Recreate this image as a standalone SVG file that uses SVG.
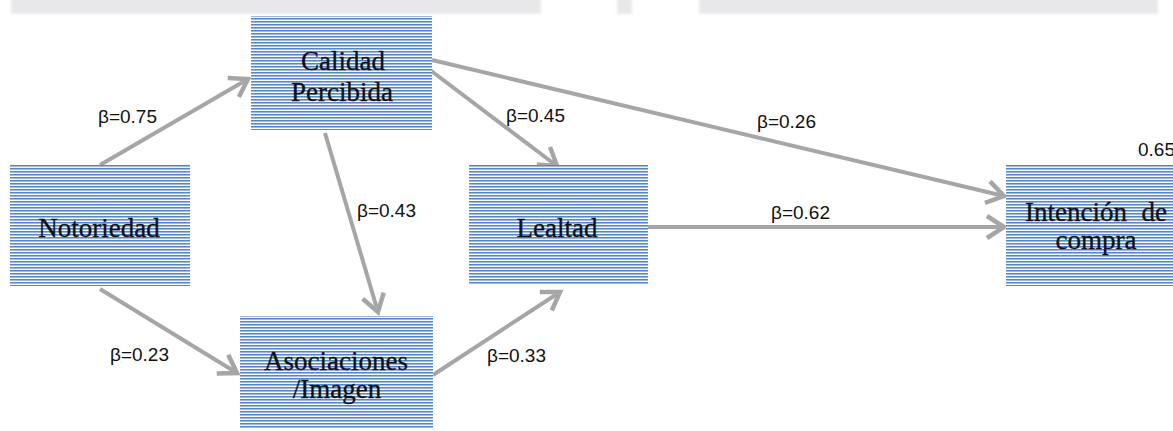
<svg xmlns="http://www.w3.org/2000/svg" width="1173" height="431" viewBox="0 0 1173 431">
  <defs>
    <pattern id="stripes" patternUnits="userSpaceOnUse" width="8" height="3">
      <rect x="0" y="0" width="8" height="3" fill="#ffffff"/>
      <rect x="0" y="0" width="8" height="1" fill="#5686d0"/>
      <rect x="0" y="1" width="8" height="1" fill="#9bbbe6"/>
    </pattern>
    <marker id="arrow" markerUnits="userSpaceOnUse" markerWidth="30" markerHeight="30" refX="22" refY="15" orient="auto">
      <path d="M5,4 L22,15 L5,26" fill="none" stroke="#a6a6a6" stroke-width="4.5" stroke-linejoin="miter"/>
    </marker>
    <filter id="soft" x="-5%" y="-50%" width="110%" height="200%">
      <feGaussianBlur stdDeviation="1.5"/>
    </filter>
  </defs>
  <style>
    .node rect { fill: url(#stripes); }
    .nl { font-family: "Liberation Serif", "Times New Roman", serif; font-size: 27px; fill: #111; stroke: #111; stroke-width: 0.35; }
    .bl { font-family: "Liberation Sans", Arial, sans-serif; font-size: 19px; fill: #111; }
    .edge { fill: none; stroke: #a6a6a6; stroke-width: 4; marker-end: url(#arrow); }
    .wm { fill: #e8e8ea; }
  </style>

  <g id="watermark" filter="url(#soft)">
    <rect class="wm" x="11" y="-4" width="530" height="18"/>
    <rect class="wm" x="617" y="-4" width="15" height="18"/>
    <rect class="wm" x="699" y="-4" width="459" height="18"/>
  </g>

  <g id="connectors">
    <line class="edge" x1="100" y1="165" x2="248" y2="79"/>
    <line class="edge" x1="100" y1="289" x2="237" y2="373"/>
    <line class="edge" x1="430" y1="70" x2="557" y2="166"/>
    <line class="edge" x1="432" y1="60" x2="1004" y2="196"/>
    <line class="edge" x1="325" y1="133" x2="378" y2="312"/>
    <line class="edge" x1="648" y1="227" x2="1004" y2="227"/>
    <line class="edge" x1="433" y1="375" x2="560" y2="292"/>
  </g>

  <g id="node-calidad" class="node">
    <rect x="251" y="16" width="181" height="114"/>
    <text class="nl" x="343" y="70" text-anchor="middle">Calidad</text>
    <text class="nl" x="342" y="101" text-anchor="middle">Percibida</text>
  </g>
  <g id="node-notoriedad" class="node">
    <rect x="10" y="165" width="180" height="121"/>
    <text class="nl" x="99" y="237" text-anchor="middle">Notoriedad</text>
  </g>
  <g id="node-asociaciones" class="node">
    <rect x="240" y="316" width="193" height="113"/>
    <text class="nl" x="336" y="370" text-anchor="middle">Asociaciones</text>
    <text class="nl" x="337" y="398" text-anchor="middle">/Imagen</text>
  </g>
  <g id="node-lealtad" class="node">
    <rect x="469" y="165" width="179" height="120"/>
    <text class="nl" x="557" y="237" text-anchor="middle">Lealtad</text>
  </g>
  <g id="node-intencion" class="node">
    <rect x="1006" y="165" width="167" height="121"/>
    <text class="nl" x="1025" y="221">Intención</text>
    <text class="nl" x="1167" y="221" text-anchor="end">de</text>
    <text class="nl" x="1096" y="249" text-anchor="middle">compra</text>
  </g>

  <g id="labels">
    <text class="bl" x="98" y="123">β=0.75</text>
    <text class="bl" x="506" y="122">β=0.45</text>
    <text class="bl" x="757" y="128">β=0.26</text>
    <text class="bl" x="357" y="217">β=0.43</text>
    <text class="bl" x="771" y="219">β=0.62</text>
    <text class="bl" x="110" y="361">β=0.23</text>
    <text class="bl" x="487" y="362">β=0.33</text>
    <text class="bl" x="1138" y="156">0.65</text>
  </g>
</svg>
